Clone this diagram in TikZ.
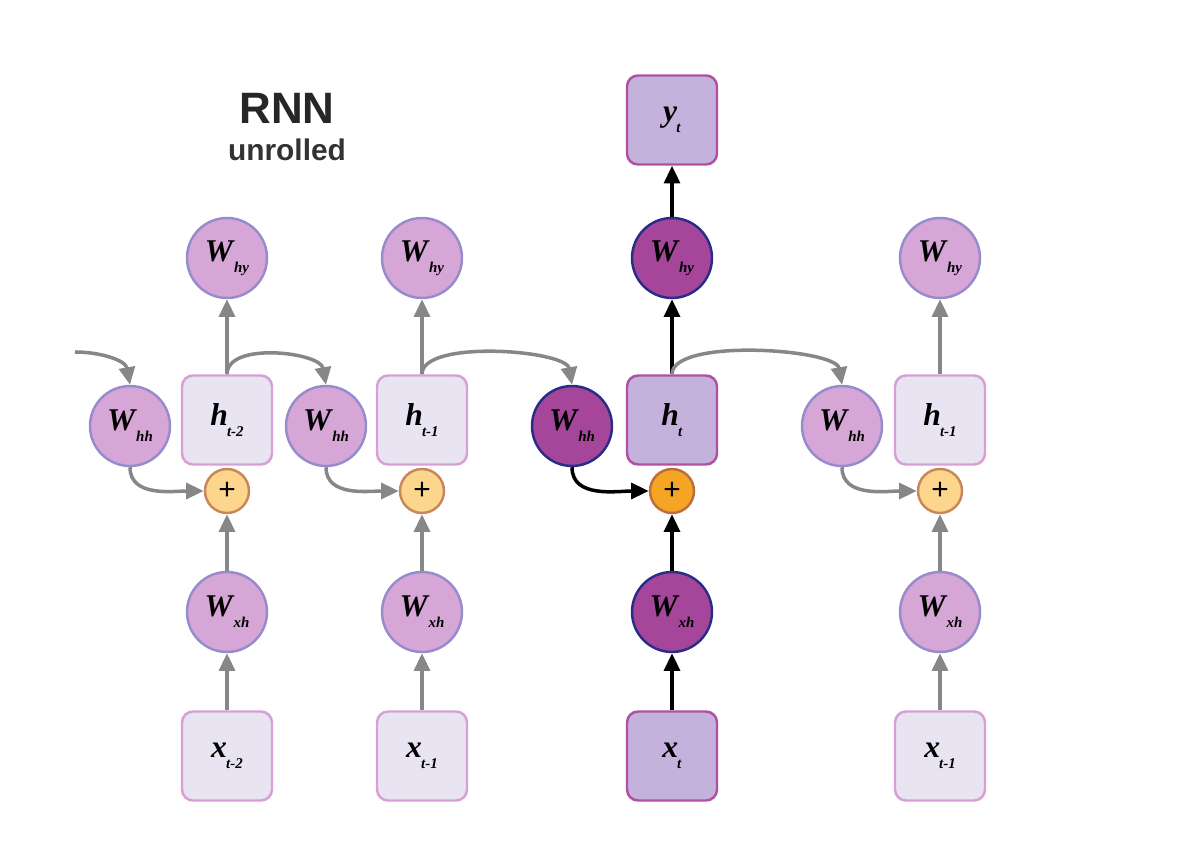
\documentclass[tikz,border=0pt]{standalone}
\usepackage{fontspec}
\setmainfont{Liberation Serif}
\setsansfont{Liberation Sans}
\usetikzlibrary{arrows.meta, positioning}

\definecolor{wfill}{RGB}{214,166,214}
\definecolor{wbord}{RGB}{150,140,205}
\definecolor{wfillon}{RGB}{165,70,155}
\definecolor{wbordon}{RGB}{40,45,135}
\definecolor{sfill}{RGB}{232,228,242}
\definecolor{sbord}{RGB}{214,160,214}
\definecolor{sfillon}{RGB}{196,178,220}
\definecolor{sbordon}{RGB}{176,80,162}
\definecolor{afill}{RGB}{252,214,140}
\definecolor{abord}{RGB}{200,135,90}
\definecolor{afillon}{RGB}{245,165,35}
\definecolor{abordon}{RGB}{190,110,60}
\definecolor{flowgray}{RGB}{135,135,135}

\newcommand{\lbl}[2]{\textbf{\textit{#1}}\kern-0.5pt\raisebox{-0.75ex}{\fontsize{8.5}{8.5}\selectfont\textbf{\textit{#2}}}}

\begin{document}
\begin{tikzpicture}[
  weight/.style={circle, minimum size=1.6cm, inner sep=0pt, draw=wbord, fill=wfill, line width=1.4pt, font=\fontsize{18}{18}\selectfont},
  weighton/.style={weight, draw=wbordon, fill=wfillon},
  state/.style={rectangle, rounded corners=0.22cm, minimum width=1.8cm, minimum height=1.78cm, draw=sbord, fill=sfill, line width=1.4pt, font=\fontsize{18}{18}\selectfont},
  stateon/.style={state, draw=sbordon, fill=sfillon},
  adder/.style={circle, minimum size=0.88cm, inner sep=0pt, draw=abord, fill=afill, line width=1.4pt, font=\sffamily\fontsize{17}{17}\selectfont},
  adderon/.style={adder, draw=abordon, fill=afillon},
  flow/.style={-{Triangle[length=10pt,width=9pt]}, line width=2pt, draw=flowgray},
  flowon/.style={flow, draw=black}
]
\useasboundingbox (0,0) rectangle (24,17.2);

% Title
\node[font=\sffamily\bfseries\fontsize{25}{25}\selectfont, text=black!85] (title) at (5.74,15.04) {RNN};
\node[font=\sffamily\bfseries\fontsize{17}{17}\selectfont, text=black!80] (subtitle) at (5.74,14.2) {unrolled};

% Inactive time steps
\foreach \c/\x/\wx/\s in {a/4.54/2.6/t-2, b/8.44/6.52/t-1, d/18.8/16.84/t-1} {
  \node[state] (x\c) at (\x,2.08) {\lbl{x}{\s}};
  \node[weight] (wxh\c) at (\x,4.96) {\lbl{W}{xh}};
  \node[adder] (plus\c) at (\x,7.38) {+};
  \node[state] (h\c) at (\x,8.8) {\lbl{h}{\s}};
  \node[weight] (why\c) at (\x,12.04) {\lbl{W}{hy}};
  \node[weight] (whh\c) at (\wx,8.68) {\lbl{W}{hh}};
  \draw[flow] (x\c) -- (wxh\c);
  \draw[flow] (wxh\c) -- (plus\c);
  \draw[flow] (h\c.north) -- (why\c);
  \draw[flow] (whh\c.south) to[out=-90,in=180] (plus\c.west);
}

% Active time step
\node[stateon] (xc) at (13.44,2.08) {\lbl{x}{t}};
\node[weighton] (wxhc) at (13.44,4.96) {\lbl{W}{xh}};
\node[adderon] (plusc) at (13.44,7.38) {+};
\node[stateon] (hc) at (13.44,8.8) {\lbl{h}{t}};
\node[weighton] (whyc) at (13.44,12.04) {\lbl{W}{hy}};
\node[stateon] (yc) at (13.44,14.8) {\lbl{y}{t}};
\node[weighton] (whhc) at (11.44,8.68) {\lbl{W}{hh}};
\draw[flowon] (xc) -- (wxhc);
\draw[flowon] (wxhc) -- (plusc);
\draw[flowon] (hc.north) -- (whyc);
\draw[flowon] (whyc) -- (yc);
\draw[flowon] (whhc.south) to[out=-90,in=180] (plusc.west);

% Recurrence
\coordinate (in) at (1.5,10.16);
\draw[flow] (in) to[out=0,in=100] (whha.north);
\draw[flow] (ha.north) to[out=90,in=100,looseness=0.85] (whhb.north);
\draw[flow] (hb.north) to[out=90,in=100,looseness=0.6] (whhc.north);
\draw[flow] (hc.north) to[out=90,in=100,looseness=0.55] (whhd.north);
\end{tikzpicture}
\end{document}
